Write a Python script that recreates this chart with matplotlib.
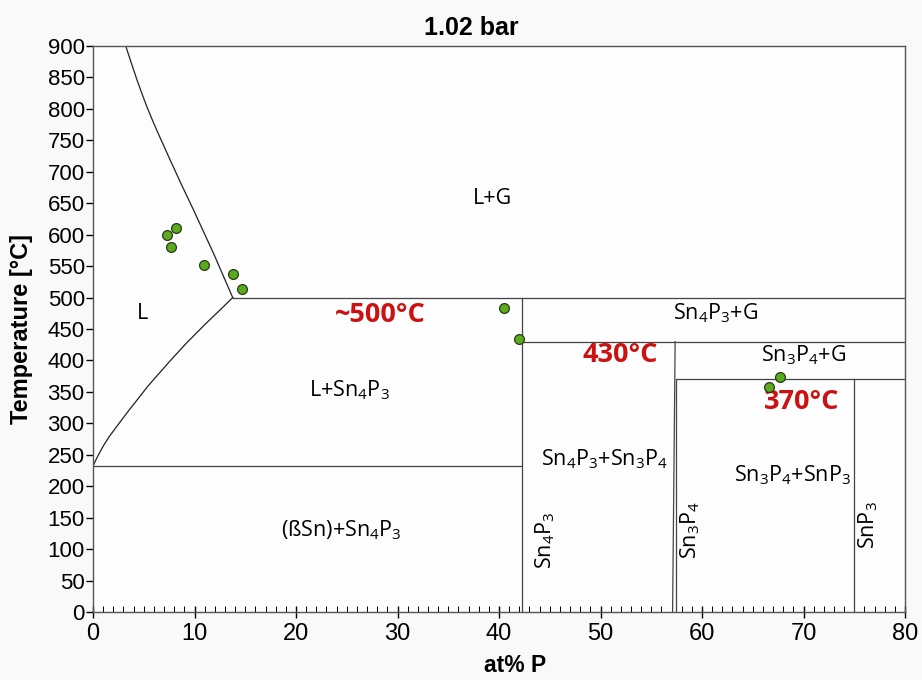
import matplotlib
matplotlib.use("Agg")
import matplotlib.pyplot as plt
from matplotlib.ticker import MultipleLocator

# ---- data ----
# upper liquidus (L / L+G)
upper_liq_x = [3.22, 3.75, 4.31, 4.8, 5.29, 5.8, 6.28, 7.59, 8.7, 9.88, 11.85, 13.76]
upper_liq_y = [900, 874, 847, 825, 804, 784, 766, 719, 680, 640, 571, 500]
# lower liquidus (L / L+Sn4P3)
lower_liq_x = [0.0, 0.3, 0.6, 1.01, 1.6, 2.66, 3.6, 4.63, 5.4, 6.27, 7.8, 9.23, 11.2, 12.5, 13.76]
lower_liq_y = [232, 242.5, 252, 264, 279, 302, 322, 343, 359, 375, 403, 428, 460, 480, 500]
# horizontal invariant lines
hlines_x0 = [0.0, 13.76, 42.3, 57.4]
hlines_x1 = [42.3, 80.0, 80.0, 80.0]
hlines_T = [232, 500, 430, 370]
# compound lines
vlines_xb = [42.3, 57.1, 57.45, 75.0]
vlines_xt = [42.3, 57.35, 57.45, 75.0]
vlines_Ttop = [500, 430, 370, 370]
# experimental points
pts_x = [8.15, 7.32, 7.72, 10.94, 13.83, 14.68, 40.5, 42.0, 67.7, 66.57]
pts_y = [610, 599, 580, 552, 537, 514, 484, 434, 374, 358]

# labels
lab_text = ["L+G", "L", "Sn$_4$P$_3$+G", "Sn$_3$P$_4$+G", "L+Sn$_4$P$_3$",
            "Sn$_4$P$_3$+Sn$_3$P$_4$", "Sn$_3$P$_4$+SnP$_3$", "(ßSn)+Sn$_4$P$_3$"]
lab_x = [39.4, 4.9, 61.3, 70.0, 25.3, 50.4, 68.9, 24.5]
lab_y = [657, 474, 475, 408, 353, 243, 218, 130]
rot_text = ["Sn$_4$P$_3$", "Sn$_3$P$_4$", "SnP$_3$"]
rot_x = [44.5, 58.8, 76.35]
rot_y = [114, 130, 138]
red_text = ["~500°C", "430°C", "370°C"]
red_x = [28.3, 51.9, 69.85]
red_y = [472, 409, 334]

x_ticks = list(range(0, 81, 10))
y_ticks = list(range(0, 901, 50))

plt.rcParams['mathtext.default'] = 'regular'

fig = plt.figure(figsize=(9.22, 6.80), dpi=100, facecolor='#f9f9f9')
ax = fig.add_axes([0.1009, 0.1, 0.8807, 0.8324])
ax.set_facecolor('#fdfdfd')

lc = '#222222'
ax.plot(upper_liq_x, upper_liq_y, color=lc, lw=0.9)
ax.plot(lower_liq_x, lower_liq_y, color=lc, lw=0.9)
for x0, x1, t in zip(hlines_x0, hlines_x1, hlines_T):
    ax.plot([x0, x1], [t, t], color='#444444', lw=0.9)
for xb, xt, tt in zip(vlines_xb, vlines_xt, vlines_Ttop):
    ax.plot([xb, xt], [0, tt], color='#444444', lw=0.9)

ax.scatter(pts_x, pts_y, s=50, color='#5aab1e', edgecolors='#2a3a1a', linewidths=0.9, zorder=5)

lf = ['Open Sans', 'DejaVu Sans']
for t, x, y in zip(lab_text, lab_x, lab_y):
    ax.text(x, y, t, ha='center', va='center', fontsize=15.5, family=lf)
for t, x, y in zip(rot_text, rot_x, rot_y):
    ax.text(x, y, t, ha='center', va='center', fontsize=15.5, family=lf, rotation=90)
for t, x, y in zip(red_text, red_x, red_y):
    ax.text(x, y, t, ha='center', va='center', fontsize=19.5, family=lf,
            fontweight='bold', color='#cc1111')

ax.set_xlim(0, 80)
ax.set_ylim(0, 900)
ax.set_xticks(x_ticks)
ax.set_yticks(y_ticks)
ax.xaxis.set_minor_locator(MultipleLocator(1))
nf = ['Liberation Sans', 'DejaVu Sans']
for lab in ax.get_xticklabels():
    lab.set_family(nf)
    lab.set_fontsize(17)
for lab in ax.get_yticklabels():
    lab.set_family(nf)
    lab.set_fontsize(16)
ax.tick_params(axis='x', which='major', direction='inout', length=8, width=1, pad=4)
ax.tick_params(axis='x', which='minor', direction='in', length=4, width=0.7)
ax.tick_params(axis='y', which='major', direction='out', length=5, width=1, pad=1)
for s in ax.spines.values():
    s.set_color('#555555')
    s.set_linewidth(1.0)

ax.set_xlabel('at% P', fontsize=16.5, fontweight='bold', family=nf)
ax.xaxis.set_label_coords(0.52, -0.075)
ax.set_ylabel('Temperature [°C]', fontsize=17, fontweight='bold', family=nf)
ax.yaxis.set_label_coords(-0.074, 0.5)
ax.set_title('1.02 bar', fontsize=18, fontweight='bold', family=nf, x=0.466, pad=8)

fig.savefig('out.png', dpi=100, facecolor=fig.get_facecolor())
